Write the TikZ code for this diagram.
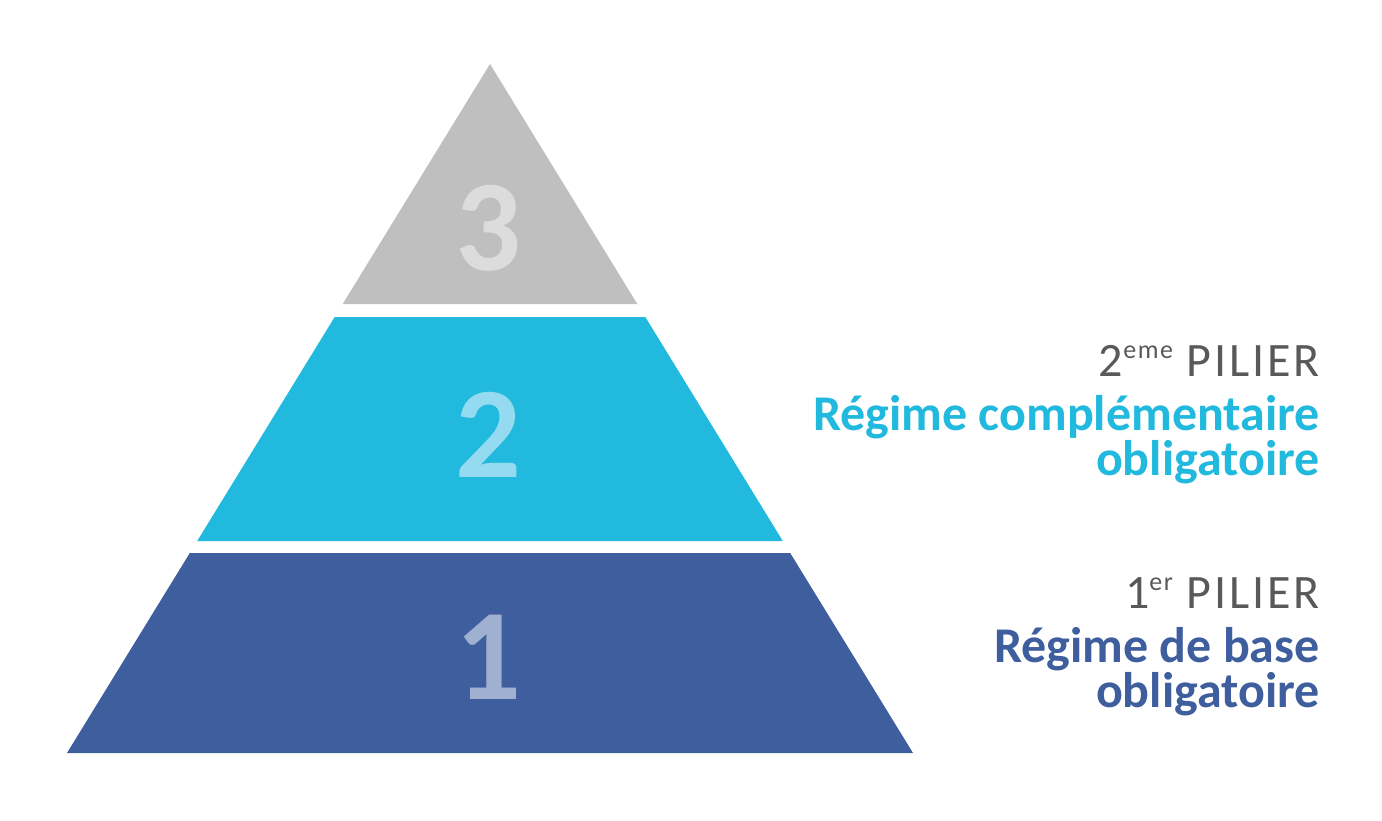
\documentclass[tikz,border=0pt]{standalone}
\usepackage{fontspec}
\setmainfont{Carlito}
\newfontfamily\pilierfont[LetterSpace=6]{Carlito}

\definecolor{grisniv}{HTML}{BFBFBF}
\definecolor{grisclair}{HTML}{DCDCDC}
\definecolor{cyanniv}{HTML}{21B9DE}
\definecolor{cyanclair}{HTML}{94DAF0}
\definecolor{bleuniv}{HTML}{3F5E9E}
\definecolor{bleuclair}{HTML}{A0B0D0}
\definecolor{textegris}{HTML}{595959}

\tikzset{
  chiffre/.style={anchor=base,inner sep=0pt,font=\fontsize{130}{130}\selectfont\bfseries},
  pilier/.style={anchor=base east,inner sep=0pt,text=textegris,font=\fontsize{48}{48}\selectfont\pilierfont},
  regime/.style={anchor=base east,inner sep=0pt,align=right,font=\fontsize{50}{45}\selectfont\bfseries},
}
\newcommand{\expo}[1]{\raisebox{18pt}{\fontsize{26}{26}\selectfont #1}}

\begin{document}
\begin{tikzpicture}[x=1pt,y=-1pt]
\useasboundingbox (0,0) rectangle (1382,821);

% pyramid levels
\fill[grisniv] (490,64) -- (637.3,304) -- (342.7,304) -- cycle;
\fill[cyanniv] (334.7,317) -- (645.3,317) -- (782.8,541) -- (197.2,541) -- cycle;
\fill[bleuniv] (189.8,553) -- (790.2,553) -- (913,753) -- (67,753) -- cycle;

\node[chiffre,text=grisclair] (n3) at (488,270) {3};
\node[chiffre,text=cyanclair] (n2) at (488,477) {2};
\node[chiffre,text=bleuclair] (n1) at (488,699) {1};

% labels
\node[pilier] (p2) at (1320,376) {2\expo{eme} PILIER};
\node[regime,text=cyanniv] (r2) at (1320,475) {Régime complémentaire\\obligatoire};

\node[pilier] (p1) at (1320,608) {1\expo{er} PILIER};
\node[regime,text=bleuniv] (r1) at (1320,707) {Régime de base\\obligatoire};
\end{tikzpicture}
\end{document}
